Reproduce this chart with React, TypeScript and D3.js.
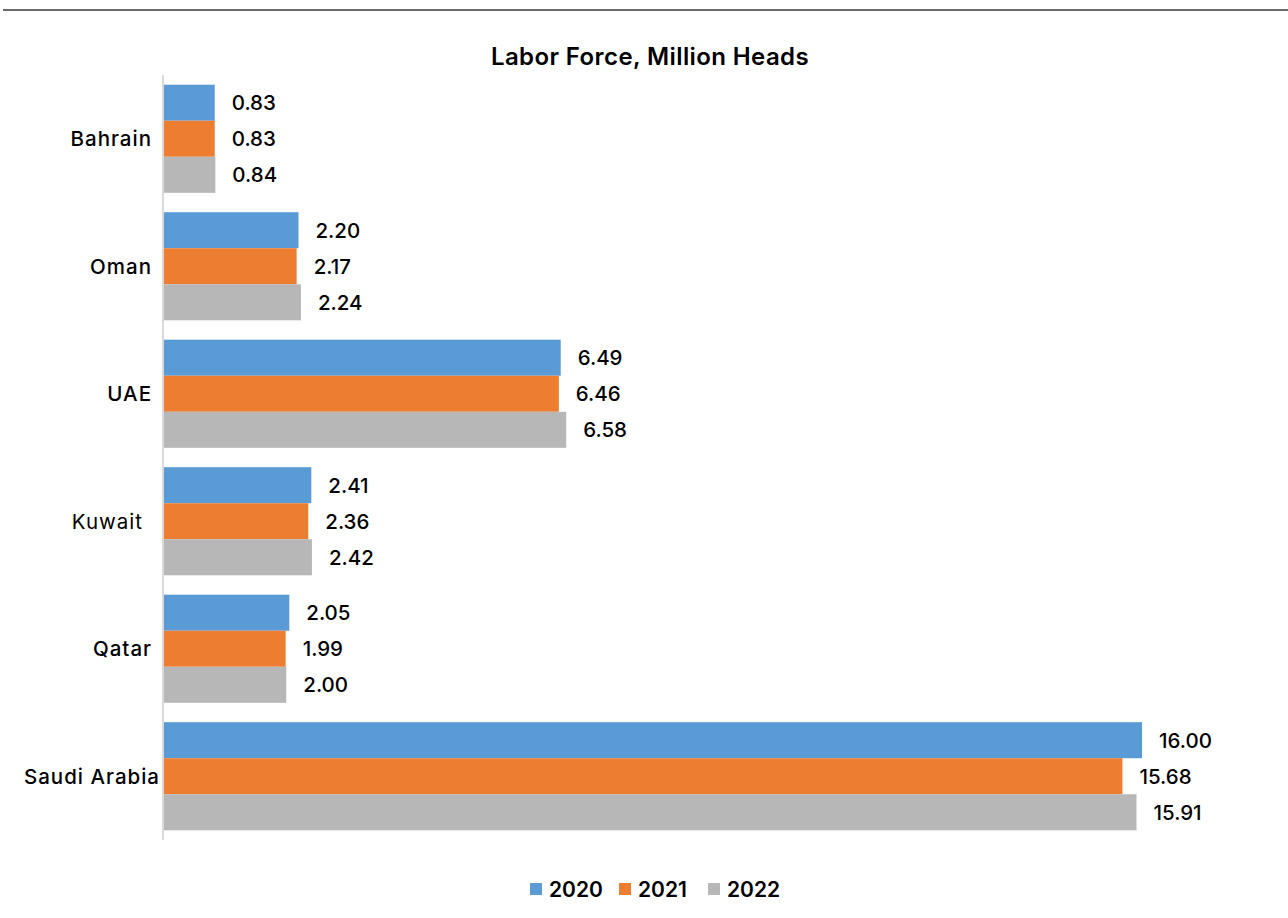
import React, { useEffect } from "react";
import * as d3 from "d3";

const categories = ["Bahrain", "Oman", "UAE", "Kuwait", "Qatar", "Saudi Arabia"];
const seriesNames = ["2020", "2021", "2022"];
const values2020 = [0.83, 2.2, 6.49, 2.41, 2.05, 16.0];
const values2021 = [0.83, 2.17, 6.46, 2.36, 1.99, 15.68];
const values2022 = [0.84, 2.24, 6.58, 2.42, 2.0, 15.91];
const colors = ["#5B9BD5", "#ED7D31", "#B7B7B7"];
const title = "Labor Force, Million Heads";

const W = 1288;
const H = 918;
const FONT = "Inter, 'Open Sans', sans-serif";

export default function App() {
  useEffect(() => {
    document.body.style.margin = "0";
  }, []);

  const series = [values2020, values2021, values2022];
  const x = d3.scaleLinear().domain([0, 16]).range([164, 1142]);
  const y0 = d3.scaleBand<string>().domain(categories).range([75, 840]).paddingInner(0.152).paddingOuter(0.076);
  const y1 = d3.scaleBand<string>().domain(seriesNames).range([0, y0.bandwidth()]);

  return (
    <svg width={W} height={H} style={{ display: "block" }} fontFamily={FONT}>
      <rect x={0} y={0} width={W} height={H} fill="#fff" />
      <line x1={3} x2={W} y1={10} y2={10} stroke="#6b6b6b" strokeWidth={2} />
      <text x={650} y={56} dy="0.36em" textAnchor="middle" fontSize={24} fontWeight={600} letterSpacing={0.4} fill="#000">
        {title}
      </text>
      <line x1={163} x2={163} y1={75} y2={840} stroke="#d9d9d9" strokeWidth={2} />
      {categories.map((c, i) => (
        <g key={c}>
          {series.map((vals, s) => {
            const yy = (y0(c) as number) + (y1(seriesNames[s]) as number);
            const h = y1.bandwidth();
            return (
              <g key={s}>
                <rect x={x(0)} y={yy} width={x(vals[i]) - x(0)} height={h} fill={colors[s]} />
                <text
                  x={x(vals[i]) + 17}
                  y={yy + h / 2}
                  dy="0.36em"
                  fontSize={20.5}
                  fontWeight={500}
                  fill="#000"
                >
                  {vals[i].toFixed(2)}
                </text>
              </g>
            );
          })}
          <text
            x={c === "Kuwait" ? 143 : c === "Saudi Arabia" ? 160 : 152}
            y={(y0(c) as number) + y0.bandwidth() / 2}
            dy="0.36em"
            textAnchor="end"
            fontSize={20.5}
            fontWeight={c === "Kuwait" ? 400 : 500}
            letterSpacing={1}
            fill="#000"
          >
            {c}
          </text>
        </g>
      ))}
      {seriesNames.map((n, s) => {
        const lx = 530 + s * 89;
        return (
          <g key={n}>
            <rect x={lx} y={883} width={12} height={12} fill={colors[s]} />
            <text x={lx + 19} y={889} dy="0.36em" fontSize={21} fontWeight={600} fill="#000">
              {n}
            </text>
          </g>
        );
      })}
    </svg>
  );
}
